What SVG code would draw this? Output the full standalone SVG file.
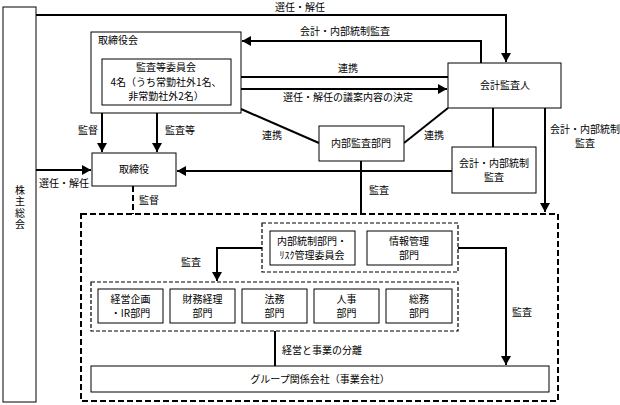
<svg xmlns="http://www.w3.org/2000/svg" width="620" height="405" viewBox="0 0 620 405">
<defs>
<marker id="ah" markerUnits="userSpaceOnUse" markerWidth="9" markerHeight="10" refX="9" refY="5" orient="auto">
<path d="M0,0 L9,5 L0,10 z" fill="#000"/>
</marker>
<style>
text{font-family:"Noto Sans CJK JP","Liberation Sans",sans-serif;font-size:10px;fill:#000;text-anchor:middle}
.box{fill:#fff;stroke:#000;stroke-width:1}
.ln{fill:none;stroke:#000;stroke-width:2}
.dash{fill:none;stroke:#000;stroke-width:2;stroke-dasharray:6,3}
.dash2{fill:none;stroke:#000;stroke-width:1.2;stroke-dasharray:4,2}
.arr{marker-end:url(#ah)}
</style>
</defs>
<rect width="620" height="405" fill="#fff"/>
<g id="connectors">
<path class="ln arr" d="M36,15 H506 V62"/>
<path class="ln arr" d="M481,63 V41 H242"/>
<path class="ln" d="M241,77 H448"/>
<path class="ln arr" d="M241,89 H447"/>
<path class="ln" d="M241,109 L319,143"/>
<path class="ln" d="M404,143 L448,108"/>
<path class="ln" d="M493,108 V147"/>
<path class="ln arr" d="M452,171 H177"/>
<path class="ln arr" d="M102,113 V152"/>
<path class="ln arr" d="M157,113 V152"/>
<path class="ln arr" d="M36,170 H91"/>
<path class="ln arr" d="M545,108 V212"/>
<path class="ln" d="M361,161 V214"/>
<path class="dash" d="M133,186 V214"/>
<path class="ln arr" d="M262,248 H217 V281"/>
<path class="ln arr" d="M458,248 H506 V365"/>
<path class="ln" d="M275,331 V366"/>
<text x="300" y="11">選任・解任</text>
<text x="345" y="35">会計・内部統制監査</text>
<text x="348" y="72">連携</text>
<text x="348" y="101">選任・解任の議案内容の決定</text>
<text x="272" y="139">連携</text>
<text x="434" y="139">連携</text>
<text x="88" y="134">監督</text>
<text x="180" y="134">監査等</text>
<text x="64" y="187">選任・解任</text>
<text x="585" y="132.5">会計・内部統制<tspan x="585" dy="14.5">監査</tspan></text>
<text x="379" y="194">監査</text>
<text x="149" y="204">監督</text>
<text x="191" y="266">監査</text>
<text x="522" y="316">監査</text>
<text x="322" y="354">経営と事業の分離</text>
</g>
<g id="shareholders">
<rect class="box" x="3" y="7" width="33" height="395"/>
<text x="20" y="185" style="writing-mode:vertical-rl;text-anchor:start;letter-spacing:1.5px">株主総会</text>
</g>
<g id="board">
<rect class="box" x="91" y="32" width="150" height="81"/>
<text x="98" y="44" style="text-anchor:start">取締役会</text>
</g>
<g id="audit-committee">
<rect class="box" x="102" y="59" width="129" height="46"/>
<text x="166" y="71.2">監査等委員会<tspan x="166" dy="14.5">4名（うち常勤社外1名、</tspan><tspan x="166" dy="14.5">非常勤社外2名）</tspan></text>
</g>
<g id="auditor">
<rect class="box" x="448" y="63" width="113" height="45"/>
<text x="505" y="89">会計監査人</text>
</g>
<g id="internal-audit">
<rect class="box" x="319" y="126" width="85" height="35"/>
<text x="361" y="147">内部監査部門</text>
</g>
<g id="acct-audit">
<rect class="box" x="452" y="147" width="84" height="46"/>
<text x="494" y="166.5">会計・内部統制<tspan x="494" dy="14.5">監査</tspan></text>
</g>
<g id="directors">
<rect class="box" x="92" y="153" width="84" height="33"/>
<text x="134" y="173">取締役</text>
</g>
<g id="group-frame">
<rect class="dash" x="81" y="214" width="477" height="187"/>
</g>
<g id="control-group">
<rect class="dash2" x="262" y="223" width="196" height="49"/>
</g>
<g id="internal-control">
<rect class="box" x="270" y="231" width="85" height="34"/>
<text x="312" y="244.5">内部統制部門・<tspan x="312" dy="14.5">ﾘｽｸ管理委員会</tspan></text>
</g>
<g id="info-mgmt">
<rect class="box" x="367" y="231" width="85" height="34"/>
<text x="409" y="244.5">情報管理<tspan x="409" dy="14.5">部門</tspan></text>
</g>
<g id="dept-group">
<rect class="dash2" x="91" y="282" width="367" height="49"/>
</g>
<g id="planning">
<rect class="box" x="98" y="289" width="65" height="34"/>
<text x="130.5" y="302.5">経営企画<tspan x="130.5" dy="14.5">・IR部門</tspan></text>
</g>
<g id="finance">
<rect class="box" x="170" y="289" width="65" height="34"/>
<text x="202.5" y="302.5">財務経理<tspan x="202.5" dy="14.5">部門</tspan></text>
</g>
<g id="legal">
<rect class="box" x="242" y="289" width="65" height="34"/>
<text x="274.5" y="302.5">法務<tspan x="274.5" dy="14.5">部門</tspan></text>
</g>
<g id="hr">
<rect class="box" x="314" y="289" width="65" height="34"/>
<text x="346.5" y="302.5">人事<tspan x="346.5" dy="14.5">部門</tspan></text>
</g>
<g id="general">
<rect class="box" x="386" y="289" width="66" height="34"/>
<text x="419" y="302.5">総務<tspan x="419" dy="14.5">部門</tspan></text>
</g>
<g id="group-companies">
<rect class="box" x="91" y="366" width="458" height="26"/>
<text x="320" y="383">グループ関係会社（事業会社）</text>
</g>
</svg>
